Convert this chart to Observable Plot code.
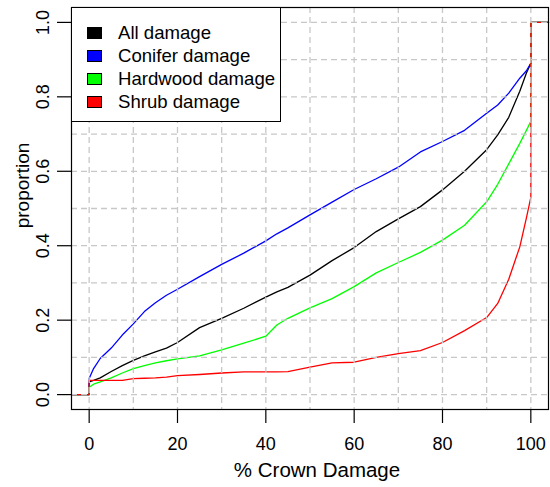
<!DOCTYPE html>
<html><head><meta charset="utf-8">
<script src="https://cdn.jsdelivr.net/npm/d3@7"></script>
<script src="https://cdn.jsdelivr.net/npm/@observablehq/plot@0.6"></script>
<style>
body{margin:0;background:#fff;}
#wrap{position:relative;width:550px;height:487px;font-family:"Liberation Sans",Arial,sans-serif;}
#legend{position:absolute;left:71px;top:7px;width:210px;height:115px;border:1px solid #000;background:#fff;box-sizing:border-box;}
.row{position:absolute;left:0;height:22px;display:flex;align-items:center;font-size:18.6px;color:#000;}
.sw{position:absolute;left:15px;width:13px;height:10px;border:1px solid #000;}
.lab{position:absolute;left:46px;white-space:nowrap;line-height:22px;}
</style></head><body><div id="wrap"></div>
<script>
// % crown damage sample points
const damage = [0, 1, 2.5, 5, 7.5, 10, 12.5, 15, 17.5, 20, 25, 30, 35, 40, 42.5, 45, 50, 55, 60, 65, 70, 75, 80, 85, 90, 92.5, 95, 97.5, 99, 100];
const allDamage      = [0.034, 0.038, 0.045, 0.062, 0.078, 0.092, 0.104, 0.115, 0.125, 0.140, 0.180, 0.205, 0.232, 0.262, 0.276, 0.288, 0.321, 0.360, 0.395, 0.438, 0.472, 0.505, 0.550, 0.600, 0.658, 0.698, 0.745, 0.815, 0.864, 0.890];
const coniferDamage  = [0.043, 0.070, 0.097, 0.125, 0.160, 0.190, 0.223, 0.247, 0.267, 0.283, 0.317, 0.350, 0.380, 0.413, 0.432, 0.448, 0.483, 0.517, 0.551, 0.580, 0.611, 0.652, 0.680, 0.710, 0.756, 0.778, 0.810, 0.850, 0.870, 0.890];
const hardwoodDamage = [0.020, 0.028, 0.034, 0.045, 0.058, 0.070, 0.078, 0.085, 0.091, 0.096, 0.104, 0.120, 0.138, 0.157, 0.187, 0.205, 0.233, 0.258, 0.290, 0.327, 0.355, 0.382, 0.415, 0.455, 0.518, 0.565, 0.620, 0.675, 0.710, 0.734];
const shrubDamage    = [0.038, 0.038, 0.038, 0.038, 0.038, 0.043, 0.044, 0.045, 0.047, 0.051, 0.054, 0.058, 0.061, 0.061, 0.061, 0.062, 0.074, 0.085, 0.087, 0.100, 0.110, 0.118, 0.140, 0.172, 0.207, 0.245, 0.310, 0.397, 0.475, 0.530];

const seriesNames  = ["All damage", "Conifer damage", "Hardwood damage", "Shrub damage"];
const seriesColors = ["#000000", "#0000ff", "#00ff00", "#ff0000"];
const seriesValues = [allDamage, coniferDamage, hardwoodDamage, shrubDamage];

const xTicks = [0, 20, 40, 60, 80, 100];
const yTicks = [0, 0.2, 0.4, 0.6, 0.8, 1.0];
const xGrid = [0, 10, 20, 30, 40, 50, 60, 70, 80, 90, 100];
const yGrid = [0, 0.1, 0.2, 0.3, 0.4, 0.5, 0.6, 0.7, 0.8, 0.9, 1.0];
const xDomain = [-4, 104];
const yDomain = [-0.04, 1.04];

// build ECDF-style step paths (flat 0 before, flat 1 after)
const rows = [];
seriesNames.forEach((name, k) => {
  const v = seriesValues[k];
  rows.push({series: name, x: xDomain[0], y: 0});
  rows.push({series: name, x: damage[0], y: 0});
  damage.forEach((d, i) => rows.push({series: name, x: d, y: v[i]}));
  rows.push({series: name, x: damage[damage.length - 1], y: 1});
  rows.push({series: name, x: xDomain[1], y: 1});
});

const fmt = d3.format(".1f");

const chart = Plot.plot({
  width: 550,
  height: 487,
  marginLeft: 71,
  marginRight: 2,
  marginTop: 7,
  marginBottom: 78,
  style: {fontFamily: "Liberation Sans, Arial, sans-serif", fontSize: "18px", background: "#fff", color: "#000"},
  x: {domain: xDomain},
  y: {domain: yDomain},
  color: {domain: seriesNames, range: seriesColors},
  marks: [
    Plot.line(rows, {x: "x", y: "y", z: "series", stroke: "series", strokeWidth: 1.3, curve: "linear"}),
    Plot.gridX(xGrid, {stroke: "#c8c8c8", strokeOpacity: 1, strokeWidth: 1.3, strokeDasharray: "6,4"}),
    Plot.gridY(yGrid, {stroke: "#c8c8c8", strokeOpacity: 1, strokeWidth: 1.3, strokeDasharray: "6,4"}),
    Plot.frame({stroke: "#000", strokeWidth: 1.2}),
    Plot.axisX(xTicks, {tickSize: 14, tickPadding: 14, tickFormat: d => String(d), label: null, stroke: "#000", strokeWidth: 1.2, fontSize: 18}),
    Plot.axisY(yTicks, {tickSize: 14, tickFormat: () => "", label: null, stroke: "#000", strokeWidth: 1.2}),
    Plot.text(yTicks, {y: d => d, frameAnchor: "left", text: d => fmt(d), rotate: -90, lineAnchor: "middle", textAnchor: "middle", dx: -28, fill: "#000", fontSize: 18}),
    Plot.text(["% Crown Damage"], {frameAnchor: "bottom", text: d => d, lineAnchor: "top", dy: 53, dx: 7, fill: "#000", fontSize: 20.5}),
    Plot.text(["proportion"], {frameAnchor: "left", text: d => d, rotate: -90, lineAnchor: "middle", textAnchor: "middle", dx: -49, dy: -23, fill: "#000", fontSize: 19})
  ]
});

const wrap = document.getElementById("wrap");
wrap.appendChild(chart);

const legend = document.createElement("div");
legend.id = "legend";
const rowTops = [14, 37, 60, 83];
seriesNames.forEach((name, k) => {
  const r = document.createElement("div");
  r.className = "row";
  r.style.top = rowTops[k] + "px";
  r.innerHTML = `<span class="sw" style="background:${seriesColors[k]};top:5px"></span><span class="lab">${name}</span>`;
  legend.appendChild(r);
});
wrap.appendChild(legend);
</script>
</body></html>
